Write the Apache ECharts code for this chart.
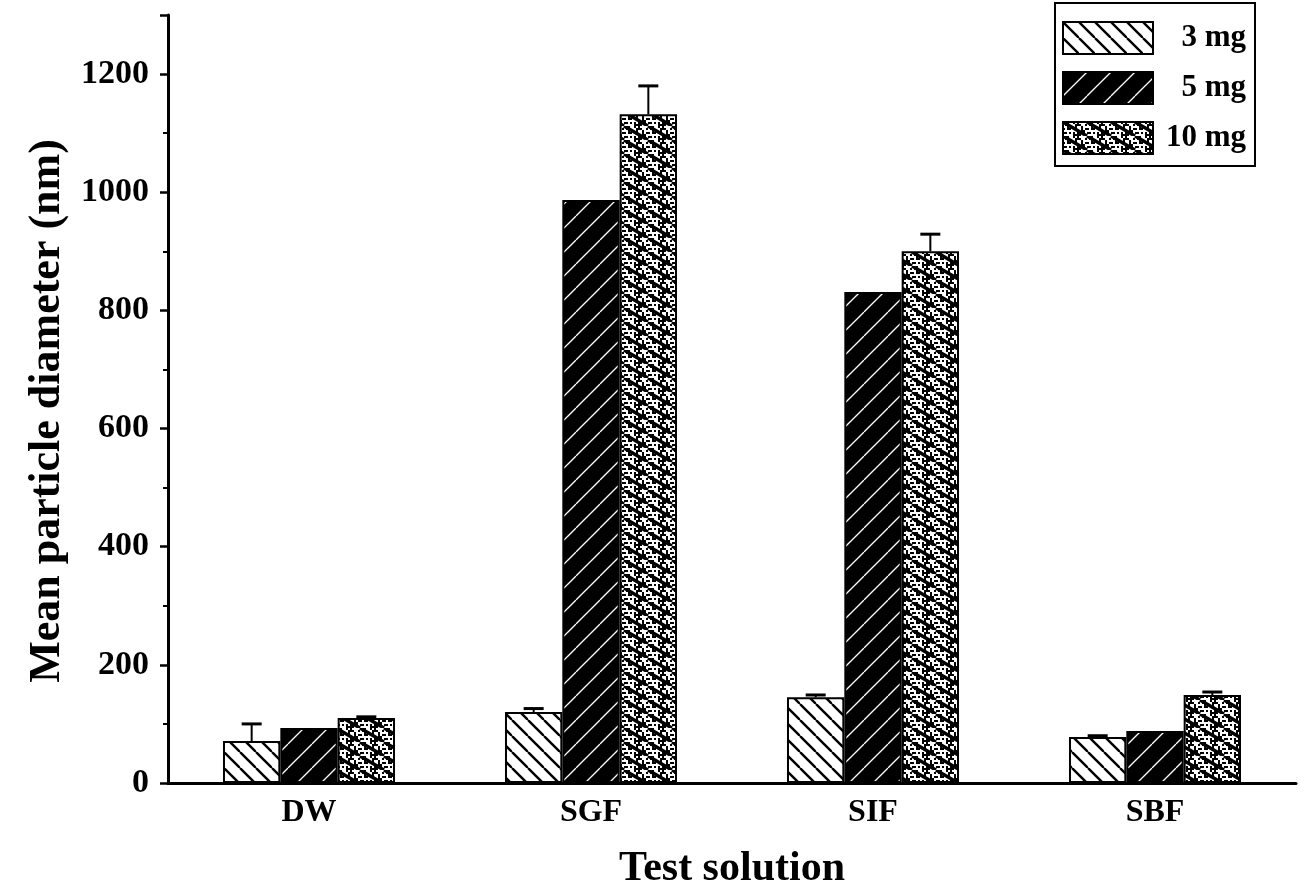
<!DOCTYPE html>
<html><head><meta charset="utf-8">
<script src="https://cdn.jsdelivr.net/npm/echarts@6/dist/echarts.min.js"></script>
<style>html,body{margin:0;padding:0;background:#fff}#c{width:1308px;height:895px}</style>
</head><body><div id="c"></div>
<script>
const categories = ['DW', 'SGF', 'SIF', 'SBF'];
const seriesNames = ['3 mg', '5 mg', '10 mg'];
const values3 = [71, 120, 145, 78];
const values5 = [93, 987, 831, 88];
const values10 = [110, 1132, 900, 149];
const err3 = [29, 6, 4, 2];
const err5 = [0, 0, 0, 0];
const err10 = [2, 48, 29, 5];
const yTicks = [0, 200, 400, 600, 800, 1000, 1200];

function makeTile(W, H, bg, fg, dir, lw, dots) {
  const c = document.createElement('canvas');
  c.width = W; c.height = H;
  const g = c.getContext('2d');
  g.fillStyle = bg; g.fillRect(0, 0, W, H);
  if (dots) {
    g.fillStyle = '#000';
    for (let i = 0; i < W; i += 2) {
      for (let j = 0; j < H; j += 2) {
        const h = Math.abs(Math.sin(i * 12.9898 + j * 78.233) * 43758.5453) % 1;
        if (h < dots) g.fillRect(i, j, 2, 2);
      }
    }
  }
  g.strokeStyle = fg; g.lineWidth = lw;
  for (let k = -1; k <= 1; k++) {
    g.beginPath();
    if (dir === 'down') { g.moveTo(k * W, 0); g.lineTo(k * W + W, H); }
    else { g.moveTo(k * W, H); g.lineTo(k * W + W, 0); }
    g.stroke();
  }
  return c;
}
const pat3 = { image: makeTile(16, 16, '#fff', '#000', 'down', 2.4, 0), repeat: 'repeat' };
const pat5 = { image: makeTile(24, 24, '#000', '#fff', 'up', 1.3, 0), repeat: 'repeat' };
const pat10 = { image: makeTile(24, 14, '#fff', '#000', 'down', 3.5, 0.4), repeat: 'repeat' };
const pats = [pat3, pat5, pat10];
const vals = [values3, values5, values10];
const errs = [err3, err5, err10];
const GAP = 0.39;

const series = [];
seriesNames.forEach((n, i) => {
  series.push({
    name: n, type: 'bar', data: vals[i], barGap: '0%', barCategoryGap: (GAP * 100) + '%',
    itemStyle: { color: pats[i], borderColor: '#000', borderWidth: 2 }
  });
});
seriesNames.forEach((n, i) => {
  series.push({
    type: 'custom', name: n + ' err', z: 5,
    data: categories.map((c, k) => [k, vals[i][k], errs[i][k]]),
    encode: { x: 0, y: 1 },
    renderItem: function (params, api) {
      const e = api.value(2);
      if (!e) return;
      const base = api.coord([api.value(0), api.value(1)]);
      const top = api.coord([api.value(0), api.value(1) + e]);
      const band = api.size([1, 0])[0];
      const bw = band * (1 - GAP) / 3;
      const cx = base[0] + (i - 1) * bw;
      return { type: 'group', children: [
        { type: 'line', shape: { x1: cx, y1: base[1], x2: cx, y2: top[1] }, style: { stroke: '#000', lineWidth: 2 } },
        { type: 'line', shape: { x1: cx - 10, y1: top[1], x2: cx + 10, y2: top[1] }, style: { stroke: '#000', lineWidth: 3 } }
      ]};
    }
  });
});

const font = 'Liberation Serif';
const chart = echarts.init(document.getElementById('c'));
chart.setOption({
  animation: false,
  backgroundColor: '#fff',
  grid: { left: 168, right: 12, top: 15, bottom: 112, containLabel: false },
  legend: {
    data: seriesNames, orient: 'vertical', left: 1055, top: 3,
    padding: [18, 9, 11, 7], itemWidth: 90, itemHeight: 32, itemGap: 16, icon: 'rect',
    borderColor: '#000', borderWidth: 2, backgroundColor: '#fff',
    formatter: name => '{a|' + name + '}',
    textStyle: { fontFamily: font, fontWeight: 'bold', fontSize: 31, color: '#000',
      rich: { a: { fontFamily: font, fontWeight: 'bold', fontSize: 31, color: '#000', width: 88, align: 'right' } } }
  },
  xAxis: {
    type: 'category', data: categories,
    name: 'Test solution', nameLocation: 'middle', nameGap: 65,
    nameTextStyle: { fontFamily: font, fontWeight: 'bold', fontSize: 42, color: '#000' },
    axisLine: { lineStyle: { color: '#000', width: 3 } },
    axisTick: { show: false },
    axisLabel: { fontFamily: font, fontWeight: 'bold', fontSize: 32, color: '#000', margin: 14 }
  },
  yAxis: {
    type: 'value', min: 0, max: 1300, interval: 200,
    name: 'Mean particle diameter (nm)', nameLocation: 'middle', nameGap: 97,
    nameTextStyle: { fontFamily: font, fontWeight: 'bold', fontSize: 44, color: '#000', padding: [0, 24, 0, 0] },
    axisLine: { show: true, lineStyle: { color: '#000', width: 3 } },
    axisTick: { show: true, length: 8, lineStyle: { color: '#000', width: 2.5 } },
    minorTick: { show: true, splitNumber: 2, length: 5, lineStyle: { color: '#000', width: 2 } },
    splitLine: { show: false },
    axisLabel: { fontFamily: font, fontWeight: 'bold', fontSize: 34, color: '#000', margin: 19,
      formatter: v => (yTicks.indexOf(v) >= 0 ? String(v) : '') }
  },
  series: series
});
</script></body></html>
